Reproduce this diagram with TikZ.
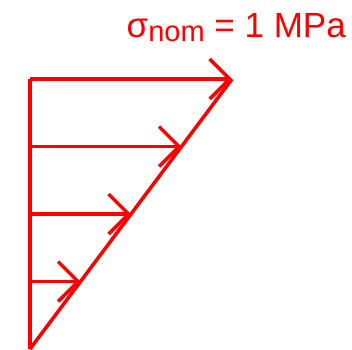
\documentclass[tikz,border=0pt]{standalone}
\usepackage{fontspec}
\setmainfont{Liberation Sans}
\usetikzlibrary{arrows.meta,calc}

\begin{document}
\begin{tikzpicture}[
  x=1pt, y=-1pt,
  load/.style={draw=red, line width=3.5pt, line join=miter},
  loadarrow/.style={load, -{Straight Barb[length=20pt, width=40pt, line join=miter]}}
]
  \useasboundingbox (0,0) rectangle (352,349);

  % Rand und Spannungsverlauf
  \coordinate (bot) at (30, 349);
  \coordinate (top) at (30, 79);
  \coordinate (tip) at (232, 79);
  \draw[load] (bot) -- (top);
  \draw[load] (bot) -- (tip);

  % Pfeile
  \coordinate (b3) at ($(bot)!0.75!(top)$);
  \coordinate (b2) at ($(bot)!0.5!(top)$);
  \coordinate (b1) at ($(bot)!0.25!(top)$);
  \coordinate (t3) at ($(bot)!0.75!(tip)$);
  \coordinate (t2) at ($(bot)!0.5!(tip)$);
  \coordinate (t1) at ($(bot)!0.25!(tip)$);
  \draw[loadarrow] (top) -- (tip);
  \draw[loadarrow] (b3) -- (t3);
  \draw[loadarrow] (b2) -- (t2);
  \draw[loadarrow] (b1) -- (t1);

  % Beschriftung
  \node[anchor=base east, inner sep=0pt, text=red, font=\fontsize{35}{35}\selectfont] (label) at (346, 37)
    {σ\raisebox{-4pt}{\fontsize{29}{29}\selectfont nom} = 1 MPa};
\end{tikzpicture}
\end{document}
